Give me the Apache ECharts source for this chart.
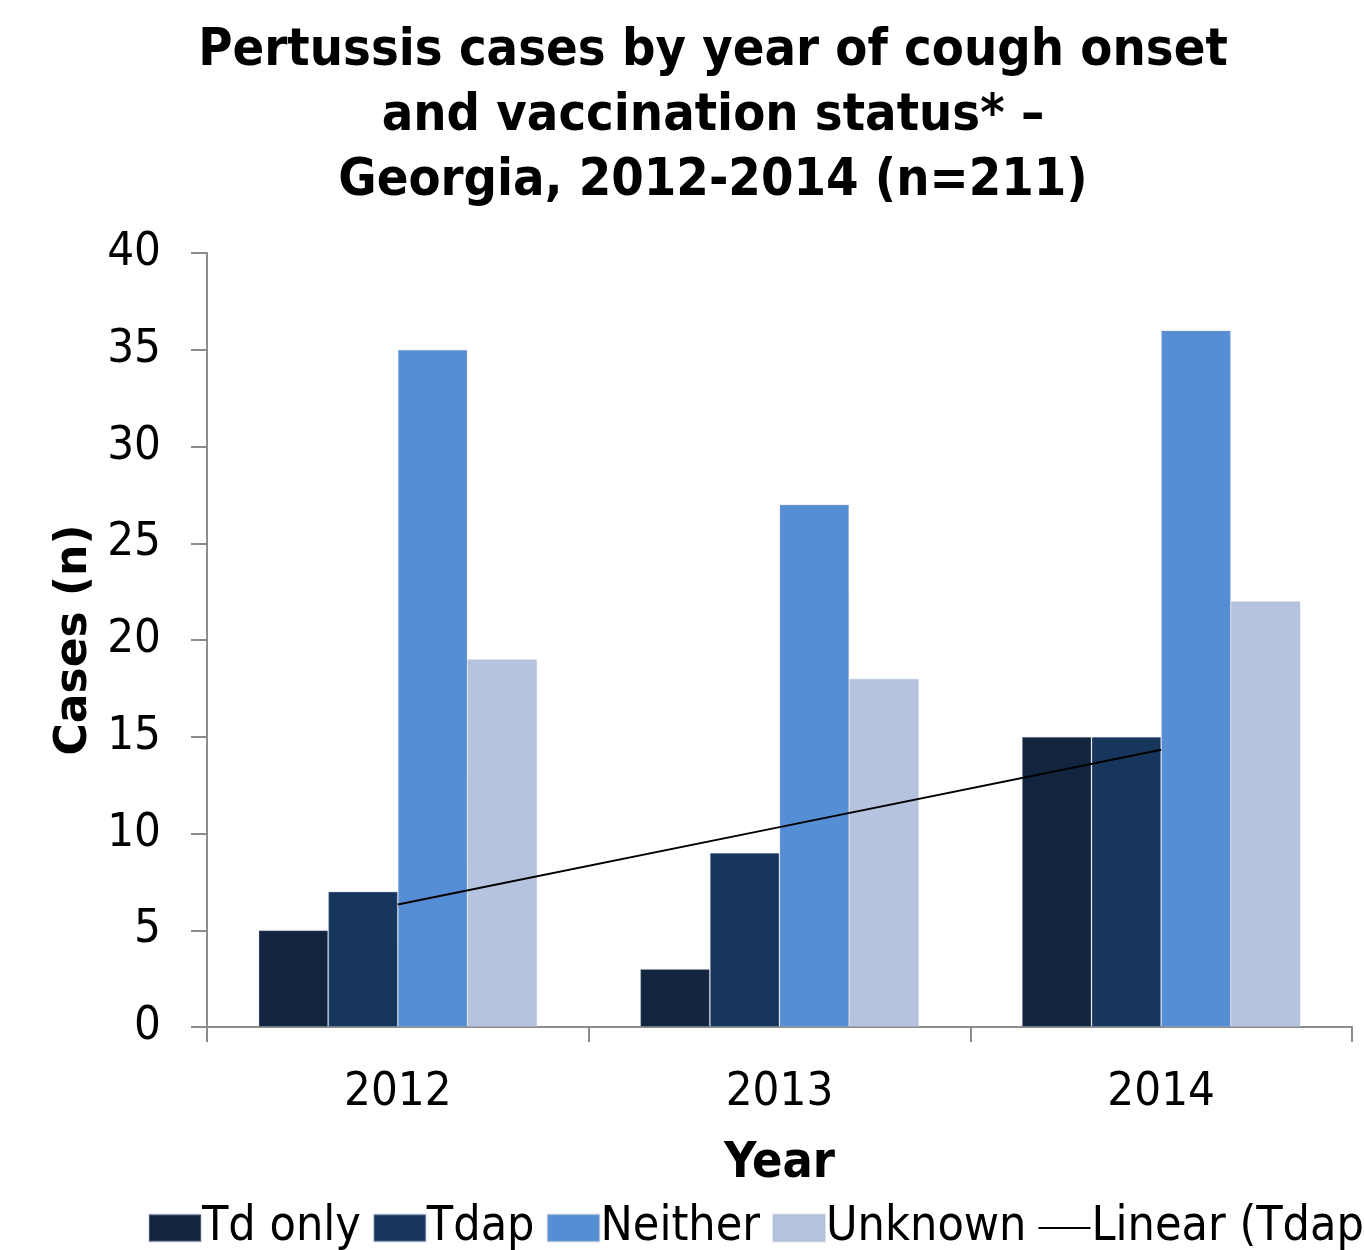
<!DOCTYPE html>
<html>
<head>
<meta charset="utf-8">
<script src="https://cdn.jsdelivr.net/npm/echarts@6/dist/echarts.min.js"></script>
<style>
  html, body { margin: 0; padding: 0; background: #fff; }
  #chart { width: 1364px; height: 1250px; }
</style>
</head>
<body>
<div id="chart"></div>
<script>
// data
var years = ["2012", "2013", "2014"];
var tdOnly = [5, 3, 15];
var tdap = [7, 9, 15];
var neither = [35, 27, 36];
var unknown = [19, 18, 22];
var tdapTrend = [6.33, 10.33, 14.33];

var condensed = "'DejaVu Sans Condensed', 'Liberation Sans Narrow', 'DejaVu Sans', sans-serif";
var axisGray = "#8c8c8c";

function bar(name, data, color) {
  return {
    name: name,
    type: "bar",
    data: data,
    barGap: "0%",
    barCategoryGap: "27%",
    itemStyle: { color: color, borderColor: "rgba(170,180,200,0.35)", borderWidth: 1 }
  };
}

var chart = echarts.init(document.getElementById("chart"), null, { renderer: "canvas" });
chart.setOption({
  animation: false,
  title: {
    text: "Pertussis cases by year of cough onset\nand vaccination status* \u2013\nGeorgia, 2012-2014 (n=211)",
    left: 708,
    textAlign: "center",
    top: 14,
    textStyle: {
      fontFamily: condensed,
      fontWeight: "bold",
      fontSize: 52,
      lineHeight: 65,
      color: "#000"
    }
  },
  grid: { left: 207, right: 12, top: 253, bottom: 223, containLabel: false },
  xAxis: {
    type: "category",
    data: years,
    name: "Year",
    nameLocation: "middle",
    nameGap: 112,
    nameTextStyle: { fontFamily: condensed, fontWeight: "bold", fontSize: 50, color: "#000" },
    axisLine: { lineStyle: { color: axisGray, width: 2 } },
    axisTick: { show: true, length: 15, lineStyle: { color: axisGray, width: 2 } },
    axisLabel: { margin: 42, fontFamily: condensed, fontSize: 47, color: "#000" }
  },
  yAxis: {
    type: "value",
    min: 0,
    max: 40,
    interval: 5,
    name: "Cases (n)",
    nameLocation: "middle",
    nameGap: 108,
    nameRotate: 90,
    nameTextStyle: { fontFamily: "'DejaVu Sans', sans-serif", fontWeight: "bold", fontSize: 44, color: "#000" },
    axisLine: { show: true, lineStyle: { color: axisGray, width: 2 } },
    axisTick: { show: true, length: 16, lineStyle: { color: axisGray, width: 2 } },
    splitLine: { show: false },
    axisLabel: { margin: 46, fontFamily: condensed, fontSize: 47, color: "#000" }
  },
  legend: {
    left: 143,
    top: 1199,
    width: 1500,
    itemWidth: 52,
    itemHeight: 27,
    itemGap: 12,
    textStyle: { fontFamily: condensed, fontSize: 48, color: "#000", padding: [0, 0, 0, -4] },
    data: [
      { name: "Td only", icon: "rect" },
      { name: "Tdap", icon: "rect" },
      { name: "Neither", icon: "rect" },
      { name: "Unknown", icon: "rect" },
      { name: "Linear (Tdap)", icon: "path://M0,0 L52,0 L52,2 L0,2 Z", itemStyle: { color: "#000" } }
    ]
  },
  series: [
    bar("Td only", tdOnly, "#12243e"),
    bar("Tdap", tdap, "#17365d"),
    bar("Neither", neither, "#558ed5"),
    bar("Unknown", unknown, "#b5c3de"),
    {
      name: "Linear (Tdap)",
      type: "line",
      data: tdapTrend,
      symbol: "none",
      z: 5,
      lineStyle: { color: "#000", width: 2 },
      itemStyle: { color: "#000" }
    }
  ]
});
</script>
</body>
</html>
